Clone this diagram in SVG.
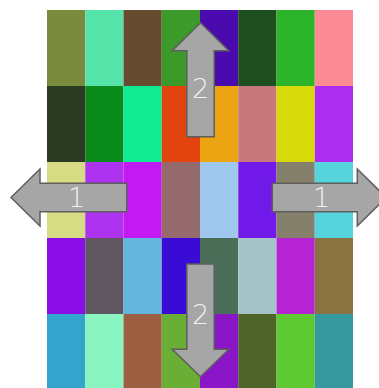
<svg xmlns="http://www.w3.org/2000/svg" width="379" height="388" viewBox="0 0 379 388">
<style>
.arrow{fill:#a6a6a6;stroke:#5e5e5e;stroke-width:1.5;stroke-linejoin:miter}
.lbl{font-family:"DejaVu Sans","Liberation Sans",sans-serif;font-weight:200;font-size:27px;fill:#f2f2f2;text-anchor:middle}
</style>
<rect width="379" height="388" fill="#ffffff"/>
<g id="grid">
<rect x="47" y="10" width="38.25" height="76" fill="#7b8b3d"/>
<rect x="85.25" y="10" width="38.25" height="76" fill="#55e3aa"/>
<rect x="123.5" y="10" width="38.25" height="76" fill="#654c30"/>
<rect x="161.75" y="10" width="38.25" height="76" fill="#3b9a2a"/>
<rect x="200" y="10" width="38.25" height="76" fill="#4a0aad"/>
<rect x="238.25" y="10" width="38.25" height="76" fill="#1f4f1e"/>
<rect x="276.5" y="10" width="38.25" height="76" fill="#2cb52a"/>
<rect x="314.75" y="10" width="38.25" height="76" fill="#fc8a94"/>
<rect x="47" y="86" width="38.25" height="76" fill="#2b3b23"/>
<rect x="85.25" y="86" width="38.25" height="76" fill="#0a8a1a"/>
<rect x="123.5" y="86" width="38.25" height="76" fill="#10eb93"/>
<rect x="161.75" y="86" width="38.25" height="76" fill="#e2430f"/>
<rect x="200" y="86" width="38.25" height="76" fill="#eca412"/>
<rect x="238.25" y="86" width="38.25" height="76" fill="#c7777c"/>
<rect x="276.5" y="86" width="38.25" height="76" fill="#d7d90a"/>
<rect x="314.75" y="86" width="38.25" height="76" fill="#ab2ef0"/>
<rect x="47" y="162" width="38.25" height="76" fill="#d5dc83"/>
<rect x="85.25" y="162" width="38.25" height="76" fill="#ad33f0"/>
<rect x="123.5" y="162" width="38.25" height="76" fill="#c21af0"/>
<rect x="161.75" y="162" width="38.25" height="76" fill="#956a6c"/>
<rect x="200" y="162" width="38.25" height="76" fill="#a0c8ee"/>
<rect x="238.25" y="162" width="38.25" height="76" fill="#7119e8"/>
<rect x="276.5" y="162" width="38.25" height="76" fill="#85806b"/>
<rect x="314.75" y="162" width="38.25" height="76" fill="#57d3dc"/>
<rect x="47" y="238" width="38.25" height="76" fill="#8b0de6"/>
<rect x="85.25" y="238" width="38.25" height="76" fill="#5f5760"/>
<rect x="123.5" y="238" width="38.25" height="76" fill="#65b6dd"/>
<rect x="161.75" y="238" width="38.25" height="76" fill="#3a0bd6"/>
<rect x="200" y="238" width="38.25" height="76" fill="#4a6e58"/>
<rect x="238.25" y="238" width="38.25" height="76" fill="#a4c2c8"/>
<rect x="276.5" y="238" width="38.25" height="76" fill="#b523d3"/>
<rect x="314.75" y="238" width="38.25" height="76" fill="#8a7340"/>
<rect x="47" y="314" width="38.25" height="76" fill="#33a5cc"/>
<rect x="85.25" y="314" width="38.25" height="76" fill="#8af5c0"/>
<rect x="123.5" y="314" width="38.25" height="76" fill="#9c5f42"/>
<rect x="161.75" y="314" width="38.25" height="76" fill="#6aae35"/>
<rect x="200" y="314" width="38.25" height="76" fill="#8a16c8"/>
<rect x="238.25" y="314" width="38.25" height="76" fill="#4f6429"/>
<rect x="276.5" y="314" width="38.25" height="76" fill="#5fc932"/>
<rect x="314.75" y="314" width="38.25" height="76" fill="#36999f"/>
</g>
<g id="arrow-up">
<path class="arrow" d="M200.5,22.7 L228.8,50.7 L214.2,50.7 L214.2,136.7 L186.8,136.7 L186.8,50.7 L172.2,50.7 Z"/>
<text class="lbl" x="200.5" y="97.5">2</text>
</g>
<g id="arrow-down">
<path class="arrow" d="M200.5,376.7 L228.8,349.3 L214.2,349.3 L214.2,264 L186.8,264 L186.8,349.3 L172.2,349.3 Z"/>
<text class="lbl" x="200.5" y="323.5">2</text>
</g>
<g id="arrow-left">
<path class="arrow" d="M11,197.5 L40,169 L40,183.3 L126.7,183.3 L126.7,211.7 L40,211.7 L40,226 Z"/>
<text class="lbl" x="76.5" y="206.5">1</text>
</g>
<g id="arrow-right">
<path class="arrow" d="M386.3,197.5 L357.3,169 L357.3,183.3 L272.3,183.3 L272.3,211.7 L357.3,211.7 L357.3,226 Z"/>
<text class="lbl" x="321.5" y="206.5">1</text>
</g>
</svg>
